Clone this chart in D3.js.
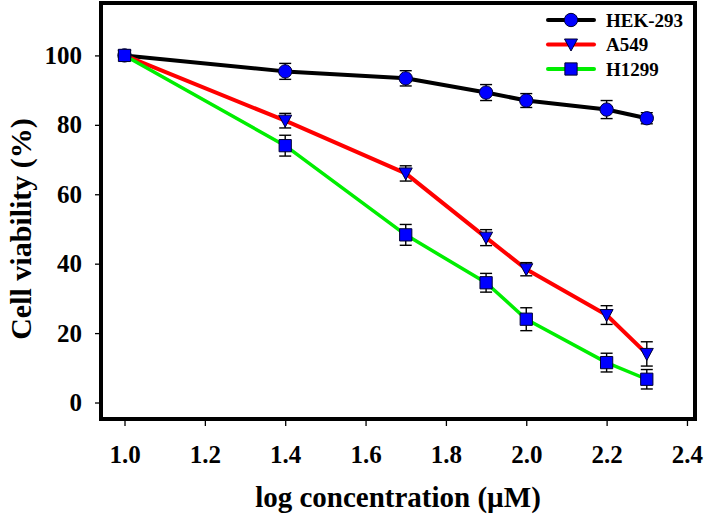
<!DOCTYPE html>
<html><head><meta charset="utf-8">
<script src="https://cdn.jsdelivr.net/npm/d3@7"></script>
<style>body{margin:0;background:#fff}svg{display:block}</style>
</head><body>
<svg id="c" width="708" height="518"></svg>
<script>
const xValues = [1.0, 1.4, 1.7, 1.9, 2.0, 2.2, 2.3];
const hek293 = [100, 95.4, 93.4, 89.3, 87.0, 84.4, 81.9];
const hek293Err = [0.8, 2.3, 2.2, 2.3, 2.0, 2.6, 1.6];
const a549 = [100, 81.2, 66.0, 47.5, 38.4, 25.2, 14.0];
const a549Err = [0.8, 2.1, 2.2, 2.3, 1.9, 2.7, 3.5];
const h1299 = [100, 74.0, 48.3, 34.5, 24.0, 11.5, 6.7];
const h1299Err = [0.8, 3.0, 3.0, 2.7, 3.3, 2.7, 2.8];
const seriesNames = ["HEK-293", "A549", "H1299"];
const xTicks = [1.0, 1.2, 1.4, 1.6, 1.8, 2.0, 2.2, 2.4];
const yTicks = [0, 20, 40, 60, 80, 100];

const F = "'Liberation Serif','Times New Roman',serif";
const L = 101, R = 695, T = 3, B = 419;
const svg = d3.select("#c");
const x = d3.scaleLinear().domain([0.9415, 2.42]).range([L, R]);
const y = d3.scaleLinear().domain([-4.75, 115.1]).range([B, T]);

const series = [
  {name: seriesNames[0], v: hek293, e: hek293Err, color: "#000000", sym: d3.symbolCircle, size: 140, w: 4},
  {name: seriesNames[1], v: a549, e: a549Err, color: "#ff0000", sym: "tri", size: 0, w: 4},
  {name: seriesNames[2], v: h1299, e: h1299Err, color: "#00ee00", sym: d3.symbolSquare, size: 150, w: 3.5}
];

function marker(g, s, cx, cy) {
  if (s.sym === "tri") {
    g.append("path").attr("d", `M${cx-6.5},${cy-5.5}L${cx+6.5},${cy-5.5}L${cx},${cy+6.5}Z`)
      .attr("fill", "#0000ff").attr("stroke", "#000033").attr("stroke-width", 1);
  } else {
    g.append("path").attr("d", d3.symbol(s.sym, s.size)()).attr("transform", `translate(${cx},${cy})`)
      .attr("fill", "#0000ff").attr("stroke", "#000033").attr("stroke-width", 1);
  }
}

// axes
const ax = svg.append("g").attr("transform", `translate(0,${B})`)
  .call(d3.axisBottom(x).tickValues(xTicks).tickSize(7).tickPadding(19).tickFormat(d3.format(".1f")));
const ay = svg.append("g").attr("transform", `translate(${L},0)`)
  .call(d3.axisLeft(y).tickValues(yTicks).tickSize(6).tickPadding(13));
[ax, ay].forEach(a => {
  a.select(".domain").remove();
  a.selectAll("line").attr("stroke", "#000").attr("stroke-width", 1.3);
  a.selectAll("text").attr("font-family", F).attr("font-weight", "bold").attr("font-size", 25).attr("fill", "#000");
});

const line = d3.line().x((d, i) => x(xValues[i])).y(d => y(d));
series.forEach(s => {
  svg.append("path").datum(s.v).attr("d", line).attr("fill", "none")
    .attr("stroke", s.color).attr("stroke-width", s.w).attr("stroke-linejoin", "round");
});
series.forEach(s => {
  const g = svg.append("g").attr("stroke", "#000").attr("stroke-width", 1.4);
  s.v.forEach((v, i) => {
    const cx = x(xValues[i]), y1 = y(v + s.e[i]), y2 = y(v - s.e[i]);
    g.append("line").attr("x1", cx).attr("x2", cx).attr("y1", y1).attr("y2", y2);
    g.append("line").attr("x1", cx - 6).attr("x2", cx + 6).attr("y1", y1).attr("y2", y1);
    g.append("line").attr("x1", cx - 6).attr("x2", cx + 6).attr("y1", y2).attr("y2", y2);
  });
});
series.forEach(s => {
  const g = svg.append("g");
  s.v.forEach((v, i) => marker(g, s, x(xValues[i]), y(v)));
});

// frame
svg.append("rect").attr("x", L).attr("y", T).attr("width", R - L).attr("height", B - T)
  .attr("fill", "none").attr("stroke", "#000").attr("stroke-width", 4);

// legend
series.forEach((s, i) => {
  const ly = 20 + i * 24.5;
  svg.append("line").attr("x1", 548).attr("x2", 594).attr("y1", ly).attr("y2", ly)
    .attr("stroke", s.color).attr("stroke-width", 4).attr("stroke-linecap", "round");
  marker(svg, s, 571, ly);
  svg.append("text").attr("x", 606).attr("y", ly).attr("dy", "0.35em").text(s.name)
    .attr("font-family", F).attr("font-weight", "bold").attr("font-size", 19);
});

// titles
svg.append("text").attr("x", 398).attr("y", 507).attr("text-anchor", "middle")
  .attr("font-family", F).attr("font-weight", "bold").attr("font-size", 29).text("log concentration (µM)");
svg.append("text").attr("transform", "translate(31,229) rotate(-90)").attr("text-anchor", "middle")
  .attr("font-family", F).attr("font-weight", "bold").attr("font-size", 30).text("Cell viability (%)");
</script>
</body></html>
